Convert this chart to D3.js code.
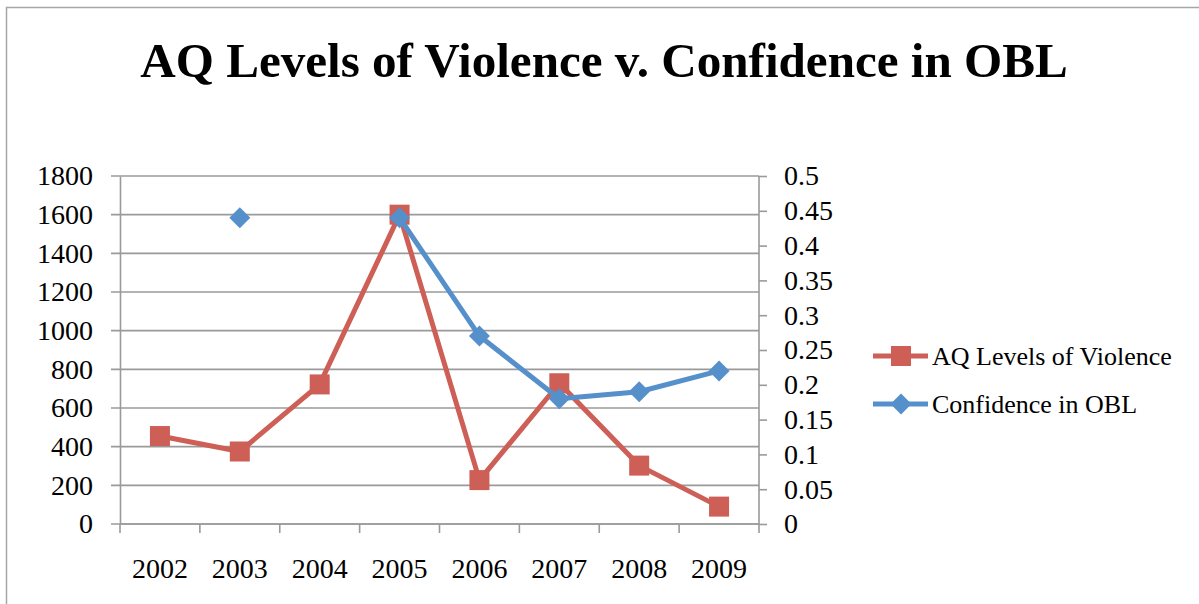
<!DOCTYPE html>
<html><head><meta charset="utf-8">
<script src="https://cdn.jsdelivr.net/npm/d3@7"></script>
<style>html,body{margin:0;padding:0;background:#fff;overflow:hidden}</style>
</head><body>
<svg id="c" width="1199" height="604"></svg>
<script>
const categories = ["2002","2003","2004","2005","2006","2007","2008","2009"];
const violence = [455, 375, 722, 1600, 227, 728, 302, 90];
const confidence = [null, 0.44, null, 0.44, 0.27, 0.18, 0.19, 0.22];
const leftTicks = [0,200,400,600,800,1000,1200,1400,1600,1800];
const rightTicks = [0,0.05,0.1,0.15,0.2,0.25,0.3,0.35,0.4,0.45,0.5];
const seriesNames = ["AQ Levels of Violence","Confidence in OBL"];
const title = "AQ Levels of Violence v. Confidence in OBL";

const RED = "#CD5F57", BLUE = "#5690CB", GRID = "#9a9a9a";
const FONT = "'Liberation Serif','DejaVu Serif',serif";
const svg = d3.select("#c");

// outer chart border
svg.append("rect").attr("x",6.5).attr("y",7.5).attr("width",1300).attr("height",800)
  .attr("fill","none").attr("stroke","#a6a6a6").attr("stroke-width",1.5);

const L = 120, R = 759, T = 176, B = 524;
const x = d3.scaleBand().domain(categories).range([L,R]).padding(0);
const cx = d => x(d) + x.bandwidth()/2;
const yL = d3.scaleLinear().domain([0,1800]).range([B,T]);
const yR = d3.scaleLinear().domain([0,0.5]).range([B,T]);

// gridlines
svg.append("g").selectAll("line").data(leftTicks).join("line")
  .attr("x1",L-9).attr("x2",R).attr("y1",d=>yL(d)).attr("y2",d=>yL(d))
  .attr("stroke",GRID).attr("stroke-width",1.6);

// left axis
const gl = svg.append("g").attr("transform",`translate(${L},0)`)
  .call(d3.axisLeft(yL).tickValues(leftTicks).tickSize(0).tickPadding(27).tickFormat(d3.format("d")));
gl.select(".domain").attr("stroke",GRID).attr("stroke-width",1.6);
gl.selectAll("text").attr("font-family",FONT).attr("font-size",28).attr("fill","#000");

// right axis
const gr = svg.append("g").attr("transform",`translate(${R},0)`)
  .call(d3.axisRight(yR).tickValues(rightTicks).tickSize(8).tickPadding(17).tickFormat(d=>String(+d.toFixed(2))));
gr.select(".domain").attr("stroke",GRID).attr("stroke-width",1.6).attr("d",`M0,${B}V${T}`);
gr.selectAll("line").attr("stroke",GRID).attr("stroke-width",1.6);
gr.selectAll("text").attr("font-family",FONT).attr("font-size",28).attr("fill","#000");

// bottom axis: ticks at band boundaries
const bounds = categories.map(c=>x(c)).concat([R]);
svg.append("line").attr("x1",L).attr("x2",R).attr("y1",B).attr("y2",B).attr("stroke",GRID).attr("stroke-width",1.6);
svg.append("g").selectAll("line").data(bounds).join("line")
  .attr("x1",d=>d).attr("x2",d=>d).attr("y1",B).attr("y2",B+9)
  .attr("stroke",GRID).attr("stroke-width",1.6);
svg.append("g").selectAll("text").data(categories).join("text")
  .attr("x",d=>cx(d)).attr("y",578).attr("text-anchor","middle")
  .attr("font-family",FONT).attr("font-size",28).text(d=>d);

// series lines
const lineL = d3.line().defined(d=>d.v!=null).x(d=>cx(d.c)).y(d=>yL(d.v));
const lineR = d3.line().defined(d=>d.v!=null).x(d=>cx(d.c)).y(d=>yR(d.v));
const vData = categories.map((c,i)=>({c,v:violence[i]}));
const cData = categories.map((c,i)=>({c,v:confidence[i]}));

svg.append("path").datum(vData).attr("d",lineL).attr("fill","none")
  .attr("stroke",RED).attr("stroke-width",5).attr("stroke-linejoin","round");
svg.append("g").selectAll("rect").data(vData).join("rect")
  .attr("x",d=>cx(d.c)-10).attr("y",d=>yL(d.v)-10).attr("width",20).attr("height",20).attr("fill",RED);

svg.append("path").datum(cData).attr("d",lineR).attr("fill","none")
  .attr("stroke",BLUE).attr("stroke-width",5).attr("stroke-linejoin","round");
const diamond = (px,py,r)=>`M${px},${py-r}L${px+r},${py}L${px},${py+r}L${px-r},${py}Z`;
svg.append("g").selectAll("path").data(cData.filter(d=>d.v!=null)).join("path")
  .attr("d",d=>diamond(cx(d.c),yR(d.v),10.5)).attr("fill",BLUE);

// legend
const leg = [{n:seriesNames[0],col:RED,m:"sq",y:356},{n:seriesNames[1],col:BLUE,m:"di",y:404}];
leg.forEach(l=>{
  svg.append("line").attr("x1",873).attr("x2",928).attr("y1",l.y).attr("y2",l.y)
    .attr("stroke",l.col).attr("stroke-width",5);
  if(l.m==="sq") svg.append("rect").attr("x",891).attr("y",l.y-10).attr("width",20).attr("height",20).attr("fill",l.col);
  else svg.append("path").attr("d",diamond(901,l.y,10.5)).attr("fill",l.col);
  svg.append("text").attr("x",932).attr("y",l.y+9).attr("font-family",FONT).attr("font-size",26).text(l.n);
});

// title, fit to reference width
const t = svg.append("text").attr("x",604).attr("y",77).attr("text-anchor","middle")
  .attr("font-family",FONT).attr("font-weight","bold").attr("font-size",48).text(title);
const w = t.node().getComputedTextLength();
t.attr("font-size",48*928/w);
</script>
</body></html>
